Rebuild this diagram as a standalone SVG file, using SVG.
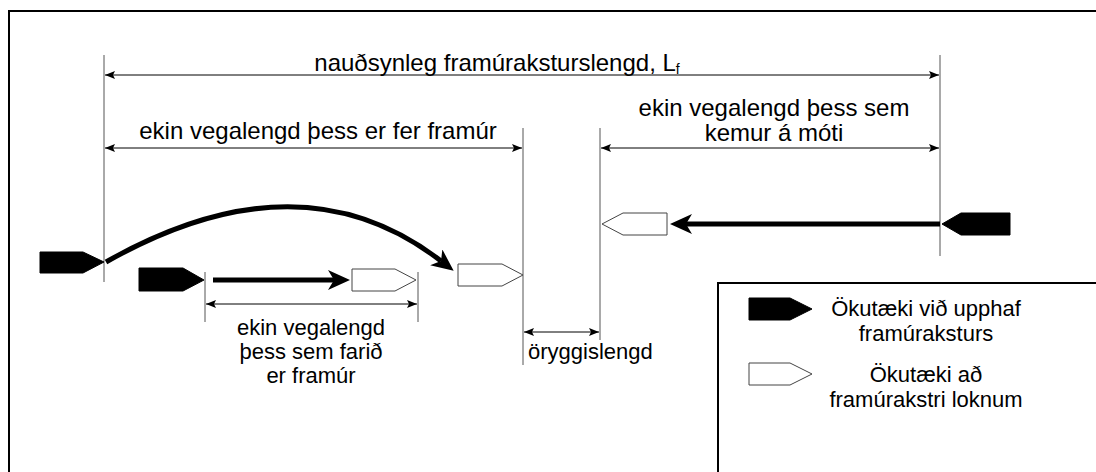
<svg xmlns="http://www.w3.org/2000/svg" width="1096" height="472" viewBox="0 0 1096 472">
<style>
text{font-family:"Liberation Sans",Arial,sans-serif;fill:#000}
.lab{font-size:24px}
.lab2{font-size:22px}
.leg{font-size:22px}
.ext{stroke:#555;stroke-width:1;fill:none}
.dim{stroke:#000;stroke-width:1;fill:none;marker-start:url(#da);marker-end:url(#da)}
.thick{stroke:#000;stroke-width:5;fill:none;marker-end:url(#big)}
.car{fill:#000;stroke:#000;stroke-width:1}
.carw{fill:#fff;stroke:#444;stroke-width:1}
</style>
<defs>
<marker id="da" viewBox="0 0 10 8" refX="10" refY="4" markerWidth="10" markerHeight="8" markerUnits="userSpaceOnUse" orient="auto-start-reverse"><path d="M0,0 L10,4 L0,8 L2,4 z" fill="#000"/></marker>
<marker id="big" viewBox="0 0 22 20" refX="6" refY="10" markerWidth="22" markerHeight="20" markerUnits="userSpaceOnUse" orient="auto"><path d="M0,0 L22,10 L0,20 L6,10 z" fill="#000"/></marker>
</defs>
<rect x="9" y="11" width="1100" height="475" fill="#fff" stroke="#000" stroke-width="2"/>
<g id="extension-lines">
<line class="ext" x1="104" y1="55" x2="104" y2="282"/>
<line class="ext" x1="940" y1="55" x2="940" y2="256"/>
<line class="ext" x1="523" y1="128" x2="523" y2="365"/>
<line class="ext" x1="600" y1="128" x2="600" y2="340"/>
<line class="ext" x1="205" y1="272" x2="205" y2="322"/>
<line class="ext" x1="418" y1="272" x2="418" y2="322"/>
</g>
<g id="connectors">
<line class="dim" x1="105" y1="75" x2="939" y2="75"/>
<line class="dim" x1="105" y1="148" x2="522" y2="148"/>
<line class="dim" x1="601" y1="148" x2="939" y2="148"/>
<line class="dim" x1="206" y1="304" x2="417" y2="304"/>
<line class="dim" x1="524" y1="332" x2="599" y2="332"/>
<path class="thick" d="M106,262 Q300,152 441,261"/>
<line class="thick" x1="213" y1="280" x2="334" y2="280"/>
<line class="thick" x1="940" y1="224" x2="686" y2="224"/>
</g>
<g id="labels">
<text class="lab" x="497" y="71" text-anchor="middle">nauðsynleg framúraksturslengd, L<tspan font-size="14" dy="3">f</tspan></text>
<text class="lab" x="318" y="139" text-anchor="middle">ekin vegalengd þess er fer framúr</text>
<text class="lab" x="774" y="116" text-anchor="middle">ekin vegalengd þess sem</text>
<text class="lab" x="774" y="141" text-anchor="middle">kemur á móti</text>
<text class="lab2" x="311" y="335" text-anchor="middle">ekin vegalengd</text>
<text class="lab2" x="311" y="359" text-anchor="middle">þess sem farið</text>
<text class="lab2" x="311" y="383" text-anchor="middle">er framúr</text>
<text class="lab2" x="528" y="359">öryggislengd</text>
</g>
<g id="car-start-passing"><polygon class="car" points="40,252 83,252 104,262 83,273 40,273"/></g>
<g id="car-start-passed"><polygon class="car" points="139,268 183,268 204,280 183,291 139,291"/></g>
<g id="car-end-passed"><polygon class="carw" points="352,269 395,269 416,280 395,291 352,291"/></g>
<g id="car-end-passing"><polygon class="carw" points="458,264 502,264 523,275 502,286 458,286"/></g>
<g id="car-end-oncoming"><polygon class="carw" points="667,213 623,213 602,224 623,235 667,235"/></g>
<g id="car-start-oncoming"><polygon class="car" points="1010,213 961,213 942,224 961,235 1010,235"/></g>
<g id="legend">
<rect x="718" y="283" width="400" height="200" fill="#fff" stroke="#000" stroke-width="2"/>
<polygon class="car" points="749,298 790,298 812,309 790,320 749,320"/>
<text class="leg" x="926" y="316" text-anchor="middle">Ökutæki við upphaf</text>
<text class="leg" x="926" y="341" text-anchor="middle">framúraksturs</text>
<polygon class="carw" points="749,363 790,363 812,374 790,385 749,385"/>
<text class="leg" x="926" y="382" text-anchor="middle">Ökutæki að</text>
<text class="leg" x="926" y="407" text-anchor="middle">framúrakstri loknum</text>
</g>
</svg>
